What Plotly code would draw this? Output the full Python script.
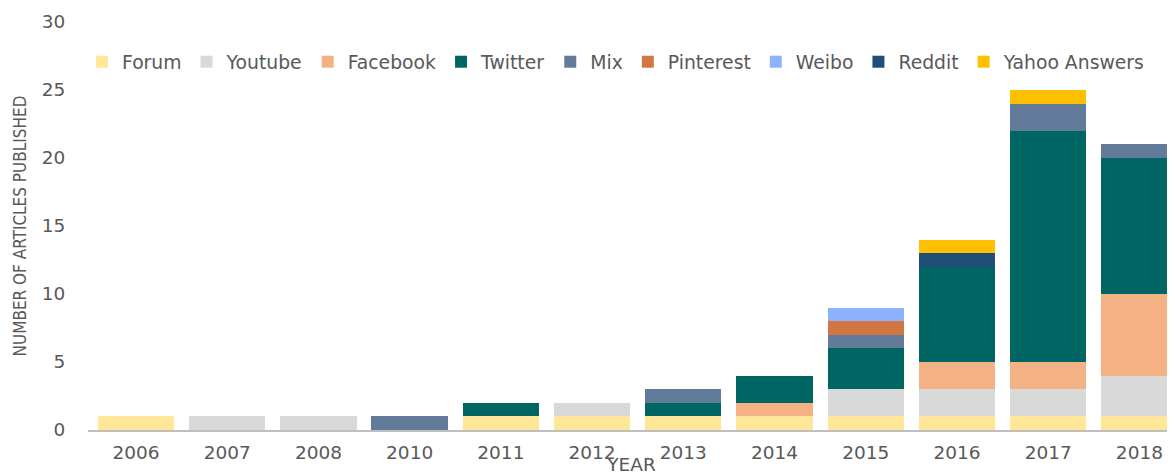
import plotly.graph_objects as go

years = ["2006", "2007", "2008", "2010", "2011", "2012", "2013", "2014", "2015", "2016", "2017", "2018"]
forum = [1, 0, 0, 0, 1, 1, 1, 1, 1, 1, 1, 1]
youtube = [0, 1, 1, 0, 0, 1, 0, 0, 2, 2, 2, 3]
facebook = [0, 0, 0, 0, 0, 0, 0, 1, 0, 2, 2, 6]
twitter = [0, 0, 0, 0, 1, 0, 1, 2, 3, 7, 17, 10]
mix = [0, 0, 0, 1, 0, 0, 1, 0, 1, 0, 2, 1]
pinterest = [0, 0, 0, 0, 0, 0, 0, 0, 1, 0, 0, 0]
weibo = [0, 0, 0, 0, 0, 0, 0, 0, 1, 0, 0, 0]
reddit = [0, 0, 0, 0, 0, 0, 0, 0, 0, 1, 0, 0]
yahoo = [0, 0, 0, 0, 0, 0, 0, 0, 0, 1, 1, 0]

series = [
    ("Forum", forum, "#FFE699"),
    ("Youtube", youtube, "#D9D9D9"),
    ("Facebook", facebook, "#F4B183"),
    ("Twitter", twitter, "#006663"),
    ("Mix", mix, "#637B9A"),
    ("Pinterest", pinterest, "#D27644"),
    ("Weibo", weibo, "#8DB3FF"),
    ("Reddit", reddit, "#1F4E79"),
    ("Yahoo Answers", yahoo, "#FFC000"),
]

GRAY = "#595959"
FONT = "DejaVu Sans, Verdana, sans-serif"
W, H = 1167, 467

fig = go.Figure()
for name, vals, color in series:
    fig.add_trace(go.Bar(
        x=years, y=vals, name=name,
        marker=dict(color=color, line=dict(width=0)),
    ))

fig.update_layout(
    barmode="stack",
    bargap=0.163,
    width=W, height=H,
    margin=dict(l=80, r=0, t=14, b=45, autoexpand=False),
    plot_bgcolor="white", paper_bgcolor="white",
    font=dict(family=FONT, color=GRAY, size=18.5),
    legend=dict(
        orientation="h",
        xref="container", yref="container",
        x=74 / W, y=1 - 35 / H,
        xanchor="left", yanchor="top",
        font=dict(family=FONT, color=GRAY, size=18.8),
        itemwidth=30,
        traceorder="normal",
        bgcolor="rgba(255,255,255,0)",
    ),
    xaxis=dict(
        type="category",
        range=[-0.526, 11.39],
        automargin=False,
        showgrid=False,
        showline=True, linecolor="#BFBFBF", linewidth=2,
        ticks="outside", ticklen=5, tickcolor="rgba(0,0,0,0)",
        tickfont=dict(family=FONT, color=GRAY, size=18.5),
        title=dict(text="YEAR", font=dict(family=FONT, color=GRAY, size=18.5), standoff=10),
    ),
    yaxis=dict(
        range=[0, 30],
        dtick=5,
        automargin=False,
        showgrid=False, zeroline=False, showline=False,
        ticks="outside", ticklen=18, tickcolor="rgba(0,0,0,0)",
        tickfont=dict(family=FONT, color=GRAY, size=18.5),
        title=dict(text="NUMBER OF ARTICLES PUBLISHED",
                   font=dict(family="Liberation Sans Narrow, DejaVu Sans Condensed, Arial Narrow, sans-serif",
                             color=GRAY, size=17),
                   standoff=10),
    ),
)

fig.write_html("out.html")
